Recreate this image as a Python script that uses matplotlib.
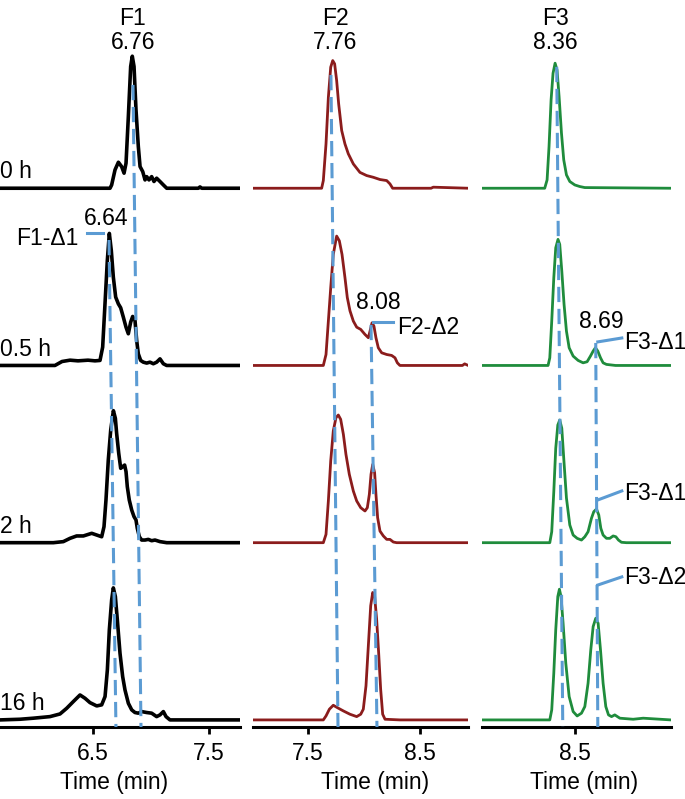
import matplotlib
matplotlib.use('Agg')
import matplotlib.pyplot as plt

plt.rcParams['font.family'] = ['Liberation Sans', 'DejaVu Sans']
plt.rcParams['font.size'] = 16.5

row_labels = ['0 h', '0.5 h', '2 h', '16 h']
row_offsets = [3, 2, 1, 0]

# ---- F1 (black) ----
f1_0h_t = [5.70, 6.649, 6.663, 6.692, 6.721, 6.749, 6.770, 6.787, 6.807, 6.827, 6.841, 6.856, 6.873,
           6.893, 6.908, 6.931, 6.951, 6.965, 6.985, 7.008, 7.028, 7.051, 7.080, 7.109, 7.138,
           7.411, 7.425, 7.44, 7.77]
f1_0h_y = [0, 0, 0.025, 0.139, 0.197, 0.164, 0.114, 0.19, 0.543, 0.922, 1.0, 0.922, 0.593,
           0.316, 0.164, 0.126, 0.063, 0.088, 0.063, 0.088, 0.051, 0.076, 0.051, 0.025, 0,
           0, 0.01, 0, 0]
f1_05h_t = [5.70, 6.174, 6.235, 6.304, 6.373, 6.459, 6.519, 6.5625, 6.5855, 6.6056, 6.6257, 6.643,
            6.660, 6.6775, 6.6976, 6.7206, 6.7408, 6.7637, 6.7868, 6.8068, 6.827, 6.8443, 6.8644,
            6.8788, 6.893, 6.9133, 6.936, 6.965, 6.9938, 7.0225, 7.0513, 7.08, 7.1088, 7.1375, 7.77]
f1_05h_y = [0, 0, 0.03, 0.04, 0.035, 0.04, 0.035, 0.038, 0.139, 0.467, 0.795, 1.0,
            0.871, 0.669, 0.518, 0.467, 0.437, 0.366, 0.29, 0.24, 0.328, 0.371, 0.341,
            0.189, 0.088, 0.038, 0.025, 0.018, 0.025, 0.013, 0.025, 0.05, 0.013, 0, 0]
f1_2h_t = [5.70, 6.160, 6.246, 6.304, 6.361, 6.419, 6.491, 6.534, 6.577, 6.597, 6.614, 6.634, 6.655,
           6.678, 6.695, 6.706, 6.724, 6.741, 6.758, 6.775, 6.787, 6.798, 6.815, 6.836, 6.856,
           6.873, 6.884, 6.902, 6.922, 6.951, 6.979, 7.008, 7.037, 7.080, 7.138, 7.77]
f1_2h_y = [0, 0, 0.008, 0.033, 0.051, 0.051, 0.071, 0.058, 0.045, 0.121, 0.323, 0.626, 0.854,
           1.0, 0.942, 0.828, 0.677, 0.563, 0.576, 0.588, 0.538, 0.424, 0.323, 0.247, 0.197,
           0.172, 0.109, 0.045, 0.020, 0.020, 0.025, 0.015, 0.020, 0.008, 0, 0]
f1_16h_t = [5.70, 5.8725, 5.9875, 6.131, 6.2175, 6.275, 6.3325, 6.39, 6.433, 6.476, 6.534, 6.577,
            6.606, 6.626, 6.643, 6.663, 6.6775, 6.695, 6.712, 6.735, 6.758, 6.778, 6.807, 6.836,
            6.864, 6.893, 6.922, 6.965, 7.008, 7.051, 7.08, 7.109, 7.132, 7.166, 7.77]
f1_16h_y = [0, 0.005, 0.013, 0.025, 0.045, 0.088, 0.139, 0.189, 0.164, 0.131, 0.106, 0.114,
            0.177, 0.379, 0.682, 0.909, 1.0, 0.934, 0.758, 0.505, 0.328, 0.227, 0.126, 0.076,
            0.056, 0.051, 0.063, 0.056, 0.051, 0.025, 0.038, 0.063, 0.025, 0, 0]

# ---- F2 (red) ----
f2_0h_t = [7.013, 7.623, 7.638, 7.662, 7.683, 7.704, 7.722, 7.739, 7.757, 7.775, 7.802, 7.831,
           7.861, 7.906, 7.965, 8.025, 8.084, 8.144, 8.204, 8.233, 8.257, 8.60, 8.62, 8.932]
f2_0h_y = [0, 0, 0.058, 0.336, 0.689, 0.917, 0.967, 0.942, 0.816, 0.639, 0.437, 0.336,
           0.261, 0.184, 0.12, 0.096, 0.083, 0.066, 0.058, 0.033, 0, 0, 0.008, 0]
f2_05h_t = [7.013, 7.638, 7.662, 7.683, 7.704, 7.727, 7.757, 7.781, 7.805, 7.831, 7.852, 7.876,
            7.906, 7.936, 7.972, 8.010, 8.040, 8.055, 8.073, 8.090, 8.108, 8.129, 8.159, 8.204,
            8.248, 8.278, 8.299, 8.322, 8.88, 8.90, 8.932]
f2_05h_y = [0, 0, 0.083, 0.336, 0.588, 0.841, 0.980, 0.944, 0.841, 0.667, 0.515, 0.414,
            0.336, 0.290, 0.273, 0.235, 0.210, 0.260, 0.323, 0.298, 0.210, 0.134, 0.096, 0.083,
            0.076, 0.058, 0.020, 0, 0, 0.012, 0]
f2_2h_t = [7.013, 7.638, 7.662, 7.683, 7.704, 7.727, 7.751, 7.772, 7.793, 7.817, 7.840, 7.870,
           7.906, 7.936, 7.972, 8.010, 8.031, 8.049, 8.064, 8.079, 8.096, 8.108, 8.123, 8.144,
           8.174, 8.204, 8.233, 8.263, 8.293, 8.932]
f2_2h_y = [0, 0, 0.063, 0.316, 0.619, 0.846, 0.947, 0.967, 0.934, 0.821, 0.669, 0.518,
           0.391, 0.316, 0.265, 0.240, 0.265, 0.366, 0.518, 0.593, 0.530, 0.366, 0.189, 0.088,
           0.051, 0.025, 0.025, 0.005, 0, 0]
f2_16h_t = [7.013, 7.638, 7.662, 7.692, 7.727, 7.763, 7.817, 7.876, 7.936, 7.972, 7.995, 8.019,
            8.040, 8.061, 8.079, 8.096, 8.114, 8.132, 8.150, 8.168, 8.189, 8.322, 8.932]
f2_16h_y = [0, 0, 0.030, 0.081, 0.111, 0.093, 0.068, 0.043, 0.025, 0.043, 0.081, 0.258,
            0.561, 0.864, 0.965, 0.939, 0.763, 0.510, 0.232, 0.043, 0.005, 0, 0]

# ---- F3 (green) ----
f3_0h_t = [7.642, 8.222, 8.244, 8.262, 8.281, 8.299, 8.318, 8.336, 8.355, 8.377, 8.398, 8.423,
           8.454, 8.5, 8.546, 8.593, 9.389]
f3_0h_y = [0, 0, 0.063, 0.316, 0.669, 0.871, 0.947, 0.896, 0.694, 0.417, 0.215, 0.101,
           0.051, 0.025, 0.013, 0.005, 0]
f3_05h_t = [7.642, 8.253, 8.269, 8.287, 8.306, 8.324, 8.345, 8.361, 8.380, 8.401, 8.423, 8.448,
            8.485, 8.531, 8.577, 8.614, 8.645, 8.670, 8.691, 8.713, 8.738, 8.762, 8.793, 8.877,
            9.389]
f3_05h_y = [0, 0, 0.058, 0.336, 0.664, 0.891, 0.955, 0.917, 0.715, 0.462, 0.260, 0.134,
            0.071, 0.038, 0.020, 0.028, 0.071, 0.109, 0.134, 0.109, 0.058, 0.020, 0.008, 0,
            0]
f3_2h_t = [7.642, 8.269, 8.287, 8.306, 8.324, 8.343, 8.361, 8.380, 8.398, 8.423, 8.454, 8.485,
           8.522, 8.562, 8.593, 8.623, 8.654, 8.676, 8.701, 8.722, 8.741, 8.762, 8.793, 8.824,
           8.855, 8.880, 8.904, 8.932, 8.978, 9.389]
f3_2h_y = [0, 0, 0.083, 0.386, 0.715, 0.891, 0.929, 0.867, 0.640, 0.338, 0.134, 0.058,
           0.033, 0.020, 0.045, 0.083, 0.184, 0.235, 0.255, 0.210, 0.109, 0.058, 0.033, 0.033,
           0.051, 0.045, 0.020, 0.003, 0, 0]
f3_16h_t = [7.642, 8.269, 8.287, 8.306, 8.324, 8.343, 8.358, 8.373, 8.392, 8.417, 8.448, 8.485,
            8.522, 8.562, 8.593, 8.623, 8.648, 8.670, 8.694, 8.716, 8.738, 8.762, 8.787, 8.812,
            8.840, 8.870, 8.917, 9.040, 9.133, 9.389]
f3_16h_y = [0, 0, 0.076, 0.354, 0.682, 0.934, 0.990, 0.934, 0.732, 0.429, 0.177, 0.063,
            0.030, 0.051, 0.101, 0.278, 0.530, 0.707, 0.770, 0.732, 0.530, 0.278, 0.101, 0.038,
            0.025, 0.038, 0.013, 0.005, 0.013, 0]

# dashed retention-time markers: x at top, x at bottom, y where the line starts
f1_mark_top = [6.847, 6.640]
f1_mark_bot = [6.916, 6.700]
f1_mark_y = [3.583, 2.708]
f2_mark_top = [7.706, 8.064]
f2_mark_bot = [7.769, 8.117]
f2_mark_y = [3.639, 2.229]
f3_mark_top = [8.333, 8.694]
f3_mark_bot = [8.389, 8.713]
f3_mark_y = [3.685, 2.127]

titles = ['F1', 'F2', 'F3']
title_rt = ['6.76', '7.76', '8.36']
title_x = [6.847, 7.742, 8.324]
xlims = [(5.70, 7.77), (7.01, 8.93), (7.642, 9.39)]
xticks = [[6.5, 7.5], [7.5, 8.5], [8.5]]
colors = ['black', '#8b1c1c', '#1f8c3c']
lws = [2.6, 2.0, 2.0]
blue = '#5b9bd3'
scale = 0.745

traces = [
    [(f1_0h_t, f1_0h_y), (f1_05h_t, f1_05h_y), (f1_2h_t, f1_2h_y), (f1_16h_t, f1_16h_y)],
    [(f2_0h_t, f2_0h_y), (f2_05h_t, f2_05h_y), (f2_2h_t, f2_2h_y), (f2_16h_t, f2_16h_y)],
    [(f3_0h_t, f3_0h_y), (f3_05h_t, f3_05h_y), (f3_2h_t, f3_2h_y), (f3_16h_t, f3_16h_y)],
]
marks = [(f1_mark_top, f1_mark_bot, f1_mark_y),
         (f2_mark_top, f2_mark_bot, f2_mark_y),
         (f3_mark_top, f3_mark_bot, f3_mark_y)]

W, H = 685, 799
fig = plt.figure(figsize=(W / 100, H / 100), dpi=100)
ax_px = [(0, 240), (253, 215), (482, 189)]
label_x = [0.475, 0.57, 0.54]
axes = []
for i in range(3):
    left, width = ax_px[i]
    ax = fig.add_axes([left / W, 1 - 727 / H, width / W, 677 / H])
    axes.append(ax)
    for (t, y), off in zip(traces[i], row_offsets):
        ax.plot(t, [off + scale * v for v in y], color=colors[i], lw=lws[i], zorder=2,
                solid_joinstyle='round')
    tops, bots, ys = marks[i]
    for xt, xb, yt in zip(tops, bots, ys):
        ax.plot([xt, xb], [yt, -0.04], color=blue, lw=2.2, dashes=(5, 2.2), zorder=3)
    ax.set_xlim(*xlims[i])
    ax.set_ylim(-0.04, 3.78)
    ax.set_xticks(xticks[i])
    ax.set_xticklabels([str(v) for v in xticks[i]])
    ax.set_yticks([])
    for s in ['top', 'left', 'right']:
        ax.spines[s].set_visible(False)
    ax.spines['bottom'].set_linewidth(2.2)
    ax.tick_params(axis='x', length=5, width=2, pad=6, labelsize=16.5)
    ax.set_xlabel('Time (min)', fontsize=16.5, labelpad=4)
    ax.xaxis.label.set_x(label_x[i])
    ax.text(title_x[i], 3.96, titles[i], ha='center', va='center', fontsize=16.5)
    ax.text(title_x[i], 3.82, title_rt[i], ha='center', va='center', fontsize=16.5)

for lab, off in zip(row_labels, row_offsets):
    axes[0].text(5.70, off + 0.056, lab, ha='left', va='baseline', fontsize=16.5)

# peak annotations
ax1, ax2, ax3 = axes
ax1.text(6.614, 2.832, '6.64', ha='center', va='center')
ax1.plot([6.45, 6.588], [2.748, 2.748], color=blue, lw=2.2)
ax1.text(6.373, 2.714, 'F1-Δ1', ha='right', va='center')

ax2.text(8.126, 2.358, '8.08', ha='center', va='center')
ax2.plot([8.081, 8.260], [2.246, 2.246], color=blue, lw=2.2)
ax2.text(8.296, 2.212, 'F2-Δ2', ha='left', va='center')

ax3.text(8.75, 2.246, '8.69', ha='center', va='center')
ax3.plot([8.713, 8.935], [2.133, 2.155], color=blue, lw=2.2, clip_on=False)
ax3.text(8.954, 2.127, 'F3-Δ1', ha='left', va='center')
ax3.plot([8.713, 8.935], [1.241, 1.292], color=blue, lw=2.2, clip_on=False)
ax3.text(8.954, 1.275, 'F3-Δ1', ha='left', va='center')
ax3.plot([8.713, 8.935], [0.761, 0.807], color=blue, lw=2.2, clip_on=False)
ax3.text(8.954, 0.801, 'F3-Δ2', ha='left', va='center')

fig.savefig('out.png', dpi=100)
